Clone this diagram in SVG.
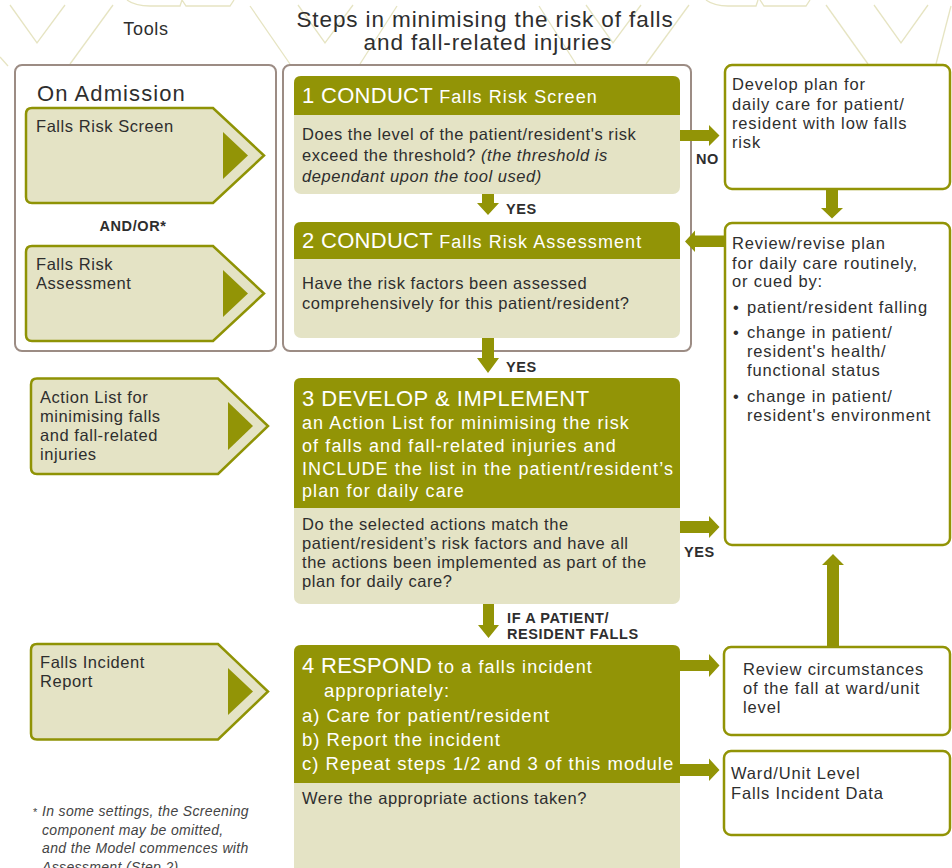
<svg xmlns="http://www.w3.org/2000/svg" width="952" height="868" viewBox="0 0 952 868">
<style>
text{font-family:"Liberation Sans",Arial,sans-serif;fill:#2e2e2e}
.bg{fill:none;stroke:#e6e4c2;stroke-width:1.3}
.frame{fill:#fff;stroke:#9c8c84;stroke-width:2}
.olive{fill:#929406}
.light{fill:#e4e3c5}
.rbox{fill:#fff;stroke:#929406;stroke-width:2.5}
.tool{fill:#e4e3c5;stroke:#8f9305;stroke-width:2.5}
.b{font-size:16.5px;letter-spacing:0.55px}
.r{font-size:16.5px;letter-spacing:0.85px}
.it{font-style:italic}
.h1{font-size:22px;fill:#fff;letter-spacing:0.3px}
.h2{font-size:18px;fill:#fff;letter-spacing:1.1px}
.lbl{font-size:14.5px;font-weight:bold;letter-spacing:0.6px}
.fn{font-size:14px;font-style:italic;fill:#444;letter-spacing:0.35px}
</style>
<g id="background">
<polyline class="bg" points="10,5 37,43 65,5"/>
<line class="bg" x1="113" y1="5" x2="70" y2="64"/>
<line class="bg" x1="0" y1="57" x2="8" y2="66"/>
<path class="bg" d="M127,0 Q135,6 150,6 H180 L182,0 M182,0 L186,6 H230 L234,0"/>
<line class="bg" x1="250" y1="6" x2="290" y2="64"/>
<polyline class="bg" points="298,5 325,43 353,5"/>
<line class="bg" x1="397" y1="6" x2="360" y2="64"/>
<line class="bg" x1="539" y1="6" x2="576" y2="64"/>
<polyline class="bg" points="586,5 613,43 641,5"/>
<line class="bg" x1="689" y1="5" x2="646" y2="64"/>
<path class="bg" d="M706,0 Q714,6 728,6 H756 L758,0 M760,0 L764,6 H806 L810,0"/>
<line class="bg" x1="826" y1="5" x2="868" y2="64"/>
<polyline class="bg" points="874,5 901,43 928,5"/>
<line class="bg" x1="951" y1="6" x2="936" y2="64"/>
</g>
<g id="titles">
<text x="146" y="35" text-anchor="middle" style="font-size:18px;letter-spacing:0.7px">Tools</text>
<text x="485" y="27" text-anchor="middle" style="font-size:22.5px;letter-spacing:0.9px">Steps in minimising the risk of falls</text>
<text x="488" y="50" text-anchor="middle" style="font-size:22.5px;letter-spacing:0.9px">and fall-related injuries</text>
</g>
<g id="frames">
<rect class="frame" x="15" y="65" width="261" height="286" rx="7"/>
<rect class="frame" x="283" y="65" width="408" height="286" rx="7"/>
</g>
<g id="on-admission">
<text x="37" y="101" style="font-size:22px;letter-spacing:1.1px">On Admission</text>
</g>
<g id="tool-screen">
<path class="tool" d="M32,108 H213 L264,155.5 L213,203 H32 Q26,203 26,197 V114 Q26,108 32,108 Z"/>
<polygon class="olive" points="223,132 248,155.5 223,179"/>
<text class="b" x="36" y="132">Falls Risk Screen</text>
</g>
<g id="andor">
<text class="lbl" x="133" y="231" text-anchor="middle">AND/OR*</text>
</g>
<g id="tool-assessment">
<path class="tool" d="M32,246 H213 L264,293.5 L213,341 H32 Q26,341 26,335 V252 Q26,246 32,246 Z"/>
<polygon class="olive" points="223,270 248,293.5 223,317"/>
<text class="b" x="36" y="270">Falls Risk</text>
<text class="b" x="36" y="289">Assessment</text>
</g>
<g id="tool-action-list">
<path class="tool" d="M37,378.5 H218 L268,426 L218,474 H37 Q31,474 31,468 V384.5 Q31,378.5 37,378.5 Z"/>
<polygon class="olive" points="228,402 253,426 228,450"/>
<text class="b" x="40" y="403">Action List for</text>
<text class="b" x="40" y="422">minimising falls</text>
<text class="b" x="40" y="441">and fall-related</text>
<text class="b" x="40" y="459.5">injuries</text>
</g>
<g id="tool-incident-report">
<path class="tool" d="M37,644 H218 L268,691.5 L218,739.5 H37 Q31,739.5 31,733.5 V650 Q31,644 37,644 Z"/>
<polygon class="olive" points="228,668 253,691.5 228,715"/>
<text class="b" x="40" y="668">Falls Incident</text>
<text class="b" x="40" y="687">Report</text>
</g>
<g id="step1">
<rect class="light" x="294" y="76" width="386" height="118" rx="7"/>
<path class="olive" d="M294,115 V83 Q294,76 301,76 H673 Q680,76 680,83 V115 Z"/>
<text x="302" y="103"><tspan class="h1">1 CONDUCT</tspan><tspan class="h2"> Falls Risk Screen</tspan></text>
<text class="b" x="302" y="139.5">Does the level of the patient/resident's risk</text>
<text class="b" x="302" y="160.5">exceed the threshold? <tspan class="it">(the threshold is</tspan></text>
<text class="b it" x="302" y="181.5">dependant upon the tool used)</text>
</g>
<g id="step2">
<rect class="light" x="294" y="222" width="386" height="116" rx="7"/>
<path class="olive" d="M294,259 V229 Q294,222 301,222 H673 Q680,222 680,229 V259 Z"/>
<text x="302" y="248"><tspan class="h1">2 CONDUCT</tspan><tspan class="h2"> Falls Risk Assessment</tspan></text>
<text class="b" x="302" y="289">Have the risk factors been assessed</text>
<text class="b" x="302" y="308.5">comprehensively for this patient/resident?</text>
</g>
<g id="step3">
<rect class="light" x="294" y="378" width="386" height="226" rx="7"/>
<path class="olive" d="M294,508 V385 Q294,378 301,378 H673 Q680,378 680,385 V508 Z"/>
<text class="h1" x="302" y="406" style="letter-spacing:0.5px">3 DEVELOP &amp; IMPLEMENT</text>
<text class="h2" x="302" y="429">an Action List for minimising the risk</text>
<text class="h2" x="302" y="452">of falls and fall-related injuries and</text>
<text class="h2" x="302" y="474.5">INCLUDE the list in the patient/resident’s</text>
<text class="h2" x="302" y="497">plan for daily care</text>
<text class="b" x="302" y="530">Do the selected actions match the</text>
<text class="b" x="302" y="549">patient/resident’s risk factors and have all</text>
<text class="b" x="302" y="567.5">the actions been implemented as part of the</text>
<text class="b" x="302" y="587">plan for daily care?</text>
</g>
<g id="step4">
<rect class="light" x="294" y="645" width="386" height="240" rx="7"/>
<path class="olive" d="M294,783 V652 Q294,645 301,645 H673 Q680,645 680,652 V783 Z"/>
<text x="302" y="673"><tspan class="h1">4 RESPOND</tspan><tspan class="h2"> to a falls incident</tspan></text>
<text class="h2" x="324" y="697" style="font-size:18.5px;letter-spacing:1px">appropriately:</text>
<text class="h2" x="302" y="722" style="font-size:18.5px;letter-spacing:1px">a) Care for patient/resident</text>
<text class="h2" x="302" y="746" style="font-size:18.5px;letter-spacing:1px">b) Report the incident</text>
<text class="h2" x="302" y="770" style="font-size:18.5px;letter-spacing:1px">c) Repeat steps 1/2 and 3 of this module</text>
<text class="b" x="302" y="804">Were the appropriate actions taken?</text>
</g>
<g id="box-low-risk">
<rect class="rbox" x="725" y="65" width="225" height="124" rx="7"/>
<text class="r" x="732" y="90">Develop plan for</text>
<text class="r" x="732" y="110">daily care for patient/</text>
<text class="r" x="732" y="129">resident with low falls</text>
<text class="r" x="732" y="148">risk</text>
</g>
<g id="box-review-plan">
<rect class="rbox" x="725" y="223" width="225" height="322" rx="7"/>
<text class="r" x="732" y="248.5">Review/revise plan</text>
<text class="r" x="732" y="268.5">for daily care routinely,</text>
<text class="r" x="732" y="287">or cued by:</text>
<text class="r" x="733" y="313">•</text><text class="r" x="747" y="313">patient/resident falling</text>
<text class="r" x="733" y="337.5">•</text><text class="r" x="747" y="337.5">change in patient/</text>
<text class="r" x="747" y="357">resident's health/</text>
<text class="r" x="747" y="376">functional status</text>
<text class="r" x="733" y="402">•</text><text class="r" x="747" y="402">change in patient/</text>
<text class="r" x="747" y="421">resident's environment</text>
</g>
<g id="box-review-circumstances">
<rect class="rbox" x="724" y="647" width="226" height="88" rx="7"/>
<text class="r" x="743" y="674.5">Review circumstances</text>
<text class="r" x="743" y="693.5">of the fall at ward/unit</text>
<text class="r" x="743" y="713">level</text>
</g>
<g id="box-incident-data">
<rect class="rbox" x="724" y="751" width="226" height="84" rx="7"/>
<text class="r" x="731" y="779">Ward/Unit Level</text>
<text class="r" x="731" y="798.5">Falls Incident Data</text>
</g>
<g id="connectors" class="olive">
<polygon points="680,130 709,130 709,125 719.5,135.5 709,146 709,141 680,141"/>
<polygon points="482,194 494,194 494,203 499,203 488,215 477,203 482,203"/>
<polygon points="482,338 494,338 494,358 499,358 488,373 477,358 482,358"/>
<polygon points="483,604 494,604 494,625 499,625 488.5,638 478,625 483,625"/>
<polygon points="826,189 838,189 838,208 843,208 832,218.5 821,208 826,208"/>
<polygon points="725,235.5 695,235.5 695,230.5 685,241.5 695,252 695,247 725,247"/>
<polygon points="680,521 709,521 709,516 719.5,527 709,538 709,533 680,533"/>
<polygon points="680,660 709,660 709,654 719.5,665.5 709,677 709,671 680,671"/>
<polygon points="680,764 709,764 709,758.5 719.5,770 709,781 709,776 680,776"/>
<polygon points="827,647 839,647 839,565 844,565 833,554 822,565 827,565"/>
</g>
<g id="connector-labels">
<text class="lbl" x="696" y="164">NO</text>
<text class="lbl" x="506" y="214">YES</text>
<text class="lbl" x="506" y="372">YES</text>
<text class="lbl" x="684" y="557">YES</text>
<text class="lbl" x="507" y="623">IF A PATIENT/</text>
<text class="lbl" x="507" y="638.5">RESIDENT FALLS</text>
</g>
<g id="footnote">
<text class="fn" x="33" y="816" style="font-size:11px;font-style:normal">*</text>
<text class="fn" x="42" y="816">In some settings, the Screening</text>
<text class="fn" x="42" y="834.5">component may be omitted,</text>
<text class="fn" x="42" y="853">and the Model commences with</text>
<text class="fn" x="42" y="871.5">Assessment (Step 2)</text>
</g>
</svg>
